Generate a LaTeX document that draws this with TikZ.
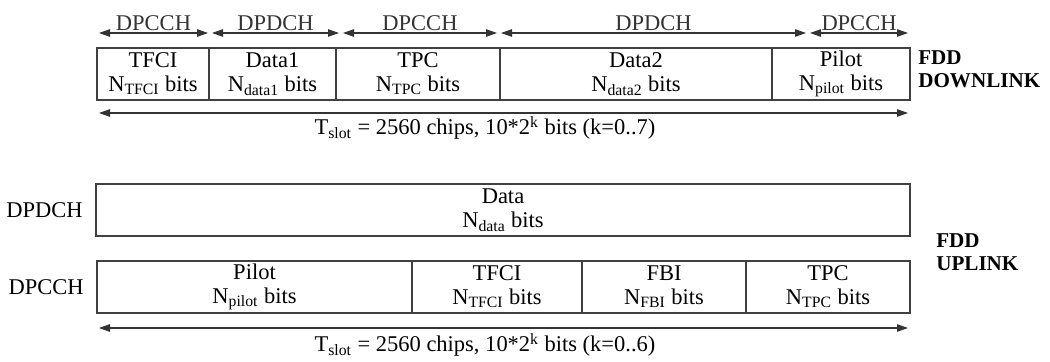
\documentclass[tikz,border=0pt]{standalone}
\usepackage{fontspec}
\setmainfont{Liberation Serif}
\usetikzlibrary{arrows.meta,positioning}
\tikzset{field/.style={draw=black!75,line width=0.9pt,align=center,minimum height=10.4mm,inner sep=0pt,font=\fontsize{12.8}{13.6}\selectfont},extent/.style={{Triangle[length=2.2mm,width=1.5mm]}-{Triangle[length=2.2mm,width=1.5mm]},black!80,line width=0.6pt,shorten <=0.4mm,shorten >=0.4mm},chan/.style={inner sep=1.2pt,font=\fontsize{12.8}{13.6}\selectfont},sysname/.style={anchor=west,align=left,inner sep=0pt,font=\fontsize{12}{13}\selectfont\bfseries}}

\begin{document}
\begin{tikzpicture}[x=0.2mm,y=-0.2mm]
\useasboundingbox (0,0) rectangle (1050,361);
% downlink slot
\node[field,minimum width=22.4mm] (dtfci) at (153,74) {TFCI\\N\textsubscript{TFCI} bits};
\node[field,minimum width=25.4mm] (ddata1) at (272.5,74) {Data1\\N\textsubscript{data1} bits};
\node[field,minimum width=32.8mm] (dtpc) at (418,74) {TPC\\N\textsubscript{TPC} bits};
\node[field,minimum width=54.4mm] (ddata2) at (636,74) {Data2\\N\textsubscript{data2} bits};
\node[field,minimum width=27.6mm] (dpilot) at (841,74) {Pilot\\N\textsubscript{pilot} bits};
\coordinate (t0) at (97,33);
\coordinate (t1) at (210,33);
\coordinate (t2) at (341,33);
\coordinate (t3) at (499,33);
\coordinate (t4) at (808,33);
\coordinate (t5) at (910,33);
\draw[extent] (t0)--node[above,chan]{DPCCH} (t1);
\draw[extent] (t1)--node[above,chan]{DPDCH} (t2);
\draw[extent] (t2)--node[above,chan]{DPCCH} (t3);
\draw[extent] (t3)--node[above,chan]{DPDCH} (t4);
\draw[extent] (t4)--node[above,chan]{DPCCH} (t5);
\coordinate (db0) at (97,113);
\coordinate (db1) at (910,113);
\draw[extent] (db0)--(db1);
\node[chan] (dslot) at (485,128) {T\textsubscript{slot} = 2560 chips, 10*2\textsuperscript{k} bits (k=0..7)};
\node[sysname] (fdddl) at (918,69) {FDD\\DOWNLINK};
% uplink slot
\node[field,minimum width=162.8mm] (udpdch) at (503,210) {Data\\N\textsubscript{data} bits};
\node[field,minimum width=63mm] (upilot) at (254.5,287) {Pilot\\N\textsubscript{pilot} bits};
\node[field,minimum width=34mm] (utfci) at (497,287) {TFCI\\N\textsubscript{TFCI} bits};
\node[field,minimum width=32.8mm] (ufbi) at (664,287) {FBI\\N\textsubscript{FBI} bits};
\node[field,minimum width=32.8mm] (utpc) at (828,287) {TPC\\N\textsubscript{TPC} bits};
\node[chan,left=2mm of udpdch] (ldpdch) {DPDCH};
\node[chan,left=2mm of upilot] (ldpcch) {DPCCH};
\coordinate (ub0) at (97,328);
\coordinate (ub1) at (910,328);
\draw[extent] (ub0)--(ub1);
\node[chan] (uslot) at (485,345) {T\textsubscript{slot} = 2560 chips, 10*2\textsuperscript{k} bits (k=0..6)};
\node[sysname] (fddul) at (936,252) {FDD\\UPLINK};
\end{tikzpicture}
\end{document}
